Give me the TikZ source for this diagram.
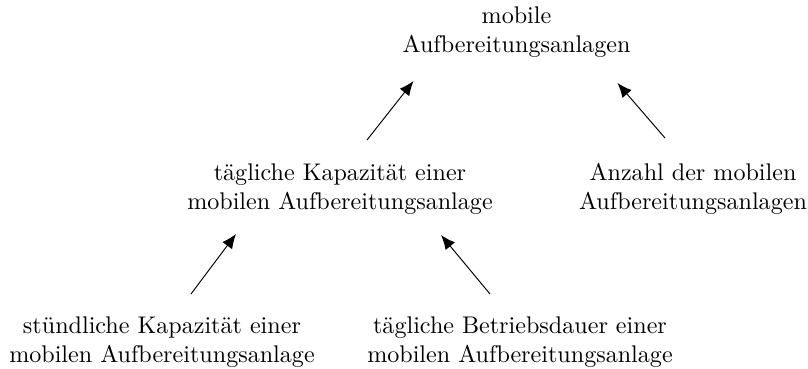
\documentclass[tikz,border=0pt]{standalone}
\usetikzlibrary{arrows.meta,calc}
\tikzset{
  lbl/.style={align=center, inner sep=0pt, outer sep=0pt, font=\normalsize},
  arr/.style={-{Latex[length=6pt,width=5pt]}, line width=0.4pt}
}
\begin{document}
\begin{tikzpicture}[x=0.415pt, y=-0.415pt]
  \useasboundingbox (0,0) rectangle (808,368);
  % top target
  \node[lbl] (top) at (516.5,32) {mobile\\Aufbereitungsanlagen};
  % second level
  \node[lbl] (ml) at (340,189) {tägliche Kapazität einer\\mobilen Aufbereitungsanlage};
  \node[lbl] (mr) at (693,189) {Anzahl der mobilen\\Aufbereitungsanlagen};
  % third level
  \node[lbl] (bl) at (162,342) {stündliche Kapazität einer\\mobilen Aufbereitungsanlage};
  \node[lbl] (br) at (520,342) {tägliche Betriebsdauer einer\\mobilen Aufbereitungsanlage};
  % influence arrows (offsets from the node centres)
  \draw[arr] ($(ml)+(27,-49)$) -- ($(top)+(-103,49)$);
  \draw[arr] ($(mr)+(-28,-51)$) -- ($(top)+(101,51)$);
  \draw[arr] ($(bl)+(29,-48)$) -- ($(ml)+(-104,45)$);
  \draw[arr] ($(br)+(-30,-48)$) -- ($(ml)+(101,46)$);
\end{tikzpicture}
\end{document}
